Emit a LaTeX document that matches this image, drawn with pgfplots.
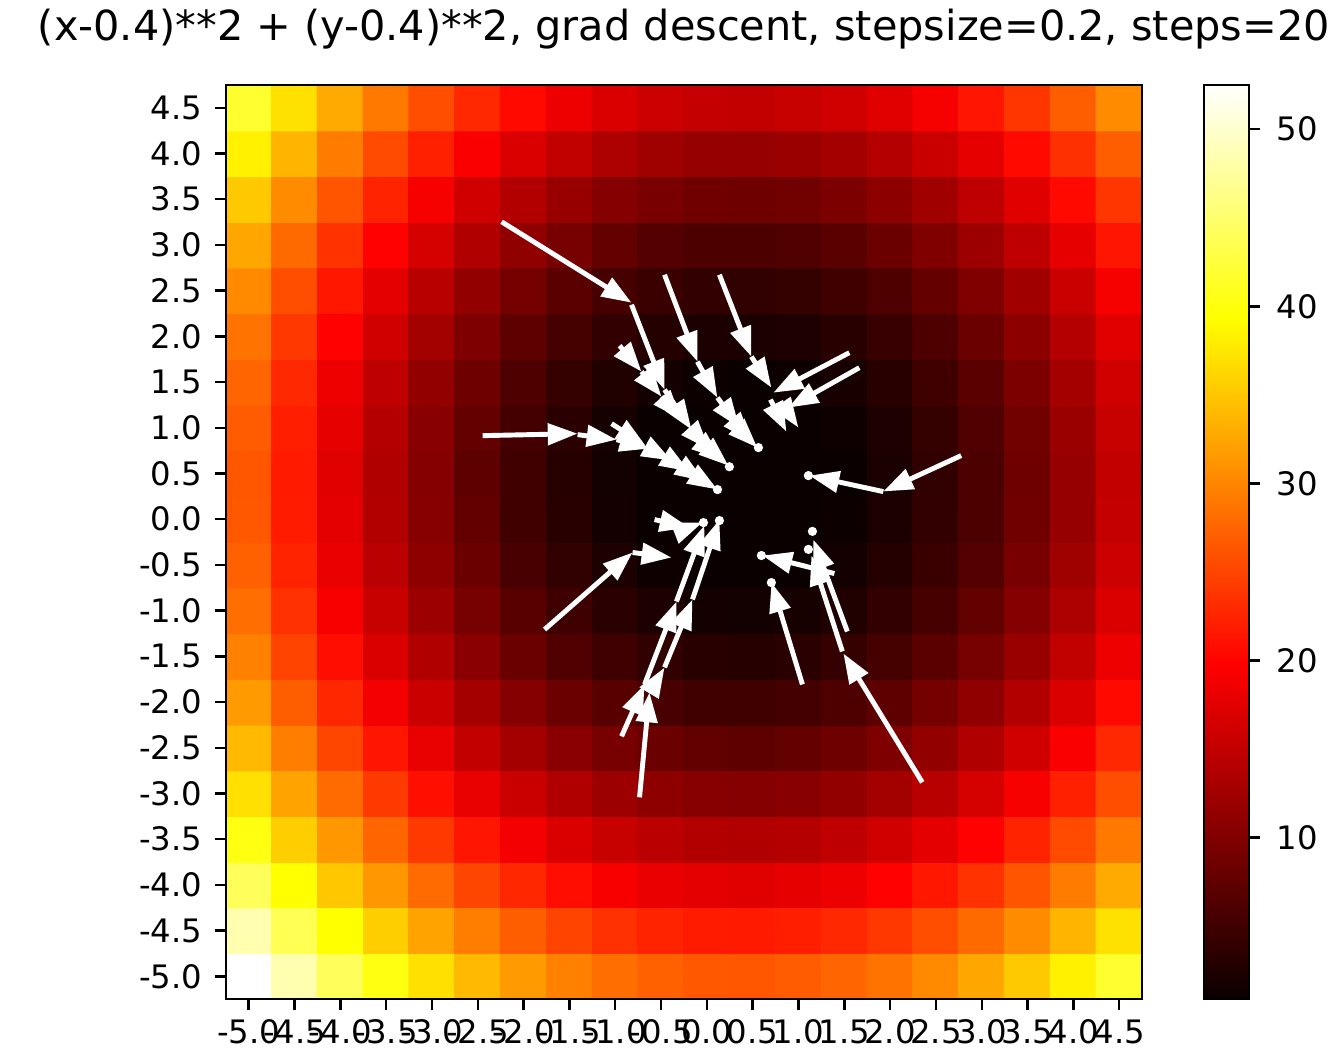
\documentclass[border=0pt]{standalone}
\usepackage{fontspec}
\setmainfont{DejaVu Sans}
\usepackage{pgfplots}
\pgfplotsset{compat=1.18}
\usetikzlibrary{arrows.meta}

\pgfplotsset{
  colormap={mplhot}{rgb(0cm)=(0.0416,0,0) rgb(3.65cm)=(1,0,0) rgb(7.46cm)=(1,1,0) rgb(10cm)=(1,1,1)},
}

\begin{document}
\begin{tikzpicture}
\begin{axis}[
  name=main,
  scale only axis,
  width=91.7mm, height=91.5mm,
  xmin=-5.25, xmax=4.75, ymin=-5.25, ymax=4.75,
  enlargelimits=false,
  axis on top,
  colormap name=mplhot,
  point meta min=0.87, point meta max=52.5,
  axis line style={line width=0.7pt},
  tick align=outside, major tick length=3.2pt,
  tick style={black, line width=0.7pt},
  xtick pos=bottom, ytick pos=left,
  tick label style={font=\fontsize{9.2}{11}\selectfont},
  xticklabel style={yshift=0.3mm},
  xtick={-5,-4.5,-4,-3.5,-3,-2.5,-2,-1.5,-1,-0.5,0,0.5,1,1.5,2,2.5,3,3.5,4,4.5},
  ytick={-5,-4.5,-4,-3.5,-3,-2.5,-2,-1.5,-1,-0.5,0,0.5,1,1.5,2,2.5,3,3.5,4,4.5},
  xticklabels={-5.0,-4.5,-4.0,-3.5,-3.0,-2.5,-2.0,-1.5,-1.0,-0.5,0.0,0.5,1.0,1.5,2.0,2.5,3.0,3.5,4.0,4.5},
  yticklabels={-5.0,-4.5,-4.0,-3.5,-3.0,-2.5,-2.0,-1.5,-1.0,-0.5,0.0,0.5,1.0,1.5,2.0,2.5,3.0,3.5,4.0,4.5},
  title={(x-0.4)**2 + (y-0.4)**2, grad descent, stepsize=0.2, steps=20},
  title style={font=\fontsize{11.8}{14}\selectfont, inner sep=0pt, at={(0.5,1)}, anchor=base, yshift=2.3mm},
  colorbar,
  colorbar style={
    scale only axis,
    width=4.5mm,
    at={(parent axis.north east)}, anchor=north west, xshift=3.2mm,
    ytick={10,20,30,40,50},
    ytick pos=right,
    tick align=outside, major tick length=3.2pt,
    tick style={black, line width=0.7pt},
    axis line style={line width=0.7pt},
    yticklabel style={font=\fontsize{9.2}{11}\selectfont, xshift=0.4mm, /pgf/number format/assume math mode=true},
  },
]
\addplot[matrix plot*, mesh/cols=20, point meta=explicit] coordinates {
(-5,-5)[52.5] (-4.5,-5)[48.4] (-4,-5)[44.1] (-3.5,-5)[40.3] (-3,-5)[37.0] (-2.5,-5)[34.1] (-2,-5)[31.7] (-1.5,-5)[29.7] (-1,-5)[28.2] (-0.5,-5)[27.1] (0,-5)[26.5] (0.5,-5)[26.4] (1,-5)[26.7] (1.5,-5)[27.5] (2,-5)[28.7] (2.5,-5)[30.4] (3,-5)[32.6] (3.5,-5)[35.2] (4,-5)[38.3] (4.5,-5)[41.8]
(-5,-4.5)[48.4] (-4.5,-4.5)[43.7] (-4,-4.5)[39.4] (-3.5,-4.5)[35.6] (-3,-4.5)[32.3] (-2.5,-4.5)[29.4] (-2,-4.5)[27.0] (-1.5,-4.5)[25.0] (-1,-4.5)[23.5] (-0.5,-4.5)[22.4] (0,-4.5)[21.8] (0.5,-4.5)[21.7] (1,-4.5)[22.0] (1.5,-4.5)[22.8] (2,-4.5)[24.0] (2.5,-4.5)[25.7] (3,-4.5)[27.9] (3.5,-4.5)[30.5] (4,-4.5)[33.6] (4.5,-4.5)[37.1]
(-5,-4)[44.1] (-4.5,-4)[39.4] (-4,-4)[35.1] (-3.5,-4)[31.4] (-3,-4)[28.0] (-2.5,-4)[25.1] (-2,-4)[22.7] (-1.5,-4)[20.7] (-1,-4)[19.2] (-0.5,-4)[18.2] (0,-4)[17.6] (0.5,-4)[17.4] (1,-4)[17.8] (1.5,-4)[18.5] (2,-4)[19.8] (2.5,-4)[21.5] (3,-4)[23.6] (3.5,-4)[26.2] (4,-4)[29.3] (4.5,-4)[32.8]
(-5,-3.5)[40.3] (-4.5,-3.5)[35.6] (-4,-3.5)[31.4] (-3.5,-3.5)[27.6] (-3,-3.5)[24.2] (-2.5,-3.5)[21.3] (-2,-3.5)[18.9] (-1.5,-3.5)[16.9] (-1,-3.5)[15.4] (-0.5,-3.5)[14.4] (0,-3.5)[13.8] (0.5,-3.5)[13.7] (1,-3.5)[14.0] (1.5,-3.5)[14.8] (2,-3.5)[16.0] (2.5,-3.5)[17.7] (3,-3.5)[19.8] (3.5,-3.5)[22.4] (4,-3.5)[25.5] (4.5,-3.5)[29.0]
(-5,-3)[37.0] (-4.5,-3)[32.3] (-4,-3)[28.0] (-3.5,-3)[24.2] (-3,-3)[20.9] (-2.5,-3)[18.0] (-2,-3)[15.6] (-1.5,-3)[13.6] (-1,-3)[12.1] (-0.5,-3)[11.0] (0,-3)[10.4] (0.5,-3)[10.3] (1,-3)[10.6] (1.5,-3)[11.4] (2,-3)[12.6] (2.5,-3)[14.3] (3,-3)[16.5] (3.5,-3)[19.1] (4,-3)[22.2] (4.5,-3)[25.7]
(-5,-2.5)[34.1] (-4.5,-2.5)[29.4] (-4,-2.5)[25.1] (-3.5,-2.5)[21.3] (-3,-2.5)[18.0] (-2.5,-2.5)[15.1] (-2,-2.5)[12.7] (-1.5,-2.5)[10.7] (-1,-2.5)[9.2] (-0.5,-2.5)[8.2] (0,-2.5)[7.6] (0.5,-2.5)[7.4] (1,-2.5)[7.7] (1.5,-2.5)[8.5] (2,-2.5)[9.8] (2.5,-2.5)[11.4] (3,-2.5)[13.6] (3.5,-2.5)[16.2] (4,-2.5)[19.3] (4.5,-2.5)[22.8]
(-5,-2)[31.7] (-4.5,-2)[27.0] (-4,-2)[22.7] (-3.5,-2)[18.9] (-3,-2)[15.6] (-2.5,-2)[12.7] (-2,-2)[10.3] (-1.5,-2)[8.3] (-1,-2)[6.8] (-0.5,-2)[5.7] (0,-2)[5.1] (0.5,-2)[5.0] (1,-2)[5.3] (1.5,-2)[6.1] (2,-2)[7.3] (2.5,-2)[9.0] (3,-2)[11.2] (3.5,-2)[13.8] (4,-2)[16.9] (4.5,-2)[20.4]
(-5,-1.5)[29.7] (-4.5,-1.5)[25.0] (-4,-1.5)[20.7] (-3.5,-1.5)[16.9] (-3,-1.5)[13.6] (-2.5,-1.5)[10.7] (-2,-1.5)[8.3] (-1.5,-1.5)[6.3] (-1,-1.5)[4.8] (-0.5,-1.5)[3.8] (0,-1.5)[3.2] (0.5,-1.5)[3.0] (1,-1.5)[3.4] (1.5,-1.5)[4.1] (2,-1.5)[5.4] (2.5,-1.5)[7.1] (3,-1.5)[9.2] (3.5,-1.5)[11.8] (4,-1.5)[14.9] (4.5,-1.5)[18.4]
(-5,-1)[28.2] (-4.5,-1)[23.5] (-4,-1)[19.2] (-3.5,-1)[15.4] (-3,-1)[12.1] (-2.5,-1)[9.2] (-2,-1)[6.8] (-1.5,-1)[4.8] (-1,-1)[3.3] (-0.5,-1)[2.3] (0,-1)[1.7] (0.5,-1)[1.5] (1,-1)[1.8] (1.5,-1)[2.6] (2,-1)[3.9] (2.5,-1)[5.5] (3,-1)[7.7] (3.5,-1)[10.3] (4,-1)[13.4] (4.5,-1)[16.9]
(-5,-0.5)[27.1] (-4.5,-0.5)[22.4] (-4,-0.5)[18.2] (-3.5,-0.5)[14.4] (-3,-0.5)[11.0] (-2.5,-0.5)[8.2] (-2,-0.5)[5.7] (-1.5,-0.5)[3.8] (-1,-0.5)[2.3] (-0.5,-0.5)[1.2] (0,-0.5)[0.87] (0.5,-0.5)[0.87] (1,-0.5)[0.87] (1.5,-0.5)[1.6] (2,-0.5)[2.8] (2.5,-0.5)[4.5] (3,-0.5)[6.6] (3.5,-0.5)[9.3] (4,-0.5)[12.3] (4.5,-0.5)[15.8]
(-5,0)[26.5] (-4.5,0)[21.8] (-4,0)[17.6] (-3.5,0)[13.8] (-3,0)[10.4] (-2.5,0)[7.6] (-2,0)[5.1] (-1.5,0)[3.2] (-1,0)[1.7] (-0.5,0)[0.87] (0,0)[0.87] (0.5,0)[0.87] (1,0)[0.87] (1.5,0)[1.0] (2,0)[2.2] (2.5,0)[3.9] (3,0)[6.0] (3.5,0)[8.7] (4,0)[11.7] (4.5,0)[15.2]
(-5,0.5)[26.4] (-4.5,0.5)[21.7] (-4,0.5)[17.4] (-3.5,0.5)[13.7] (-3,0.5)[10.3] (-2.5,0.5)[7.4] (-2,0.5)[5.0] (-1.5,0.5)[3.0] (-1,0.5)[1.5] (-0.5,0.5)[0.87] (0,0.5)[0.87] (0.5,0.5)[0.87] (1,0.5)[0.87] (1.5,0.5)[0.87] (2,0.5)[2.1] (2.5,0.5)[3.8] (3,0.5)[5.9] (3.5,0.5)[8.5] (4,0.5)[11.6] (4.5,0.5)[15.1]
(-5,1)[26.7] (-4.5,1)[22.0] (-4,1)[17.8] (-3.5,1)[14.0] (-3,1)[10.6] (-2.5,1)[7.7] (-2,1)[5.3] (-1.5,1)[3.4] (-1,1)[1.8] (-0.5,1)[0.87] (0,1)[0.87] (0.5,1)[0.87] (1,1)[0.87] (1.5,1)[1.2] (2,1)[2.4] (2.5,1)[4.1] (3,1)[6.2] (3.5,1)[8.8] (4,1)[11.9] (4.5,1)[15.4]
(-5,1.5)[27.5] (-4.5,1.5)[22.8] (-4,1.5)[18.5] (-3.5,1.5)[14.8] (-3,1.5)[11.4] (-2.5,1.5)[8.5] (-2,1.5)[6.1] (-1.5,1.5)[4.1] (-1,1.5)[2.6] (-0.5,1.5)[1.6] (0,1.5)[1.0] (0.5,1.5)[0.87] (1,1.5)[1.2] (1.5,1.5)[1.9] (2,1.5)[3.2] (2.5,1.5)[4.9] (3,1.5)[7.0] (3.5,1.5)[9.6] (4,1.5)[12.7] (4.5,1.5)[16.2]
(-5,2)[28.7] (-4.5,2)[24.0] (-4,2)[19.8] (-3.5,2)[16.0] (-3,2)[12.6] (-2.5,2)[9.8] (-2,2)[7.3] (-1.5,2)[5.4] (-1,2)[3.9] (-0.5,2)[2.8] (0,2)[2.2] (0.5,2)[2.1] (1,2)[2.4] (1.5,2)[3.2] (2,2)[4.4] (2.5,2)[6.1] (3,2)[8.2] (3.5,2)[10.9] (4,2)[13.9] (4.5,2)[17.4]
(-5,2.5)[30.4] (-4.5,2.5)[25.7] (-4,2.5)[21.5] (-3.5,2.5)[17.7] (-3,2.5)[14.3] (-2.5,2.5)[11.4] (-2,2.5)[9.0] (-1.5,2.5)[7.1] (-1,2.5)[5.5] (-0.5,2.5)[4.5] (0,2.5)[3.9] (0.5,2.5)[3.8] (1,2.5)[4.1] (1.5,2.5)[4.9] (2,2.5)[6.1] (2.5,2.5)[7.8] (3,2.5)[9.9] (3.5,2.5)[12.5] (4,2.5)[15.6] (4.5,2.5)[19.1]
(-5,3)[32.6] (-4.5,3)[27.9] (-4,3)[23.6] (-3.5,3)[19.8] (-3,3)[16.5] (-2.5,3)[13.6] (-2,3)[11.2] (-1.5,3)[9.2] (-1,3)[7.7] (-0.5,3)[6.6] (0,3)[6.0] (0.5,3)[5.9] (1,3)[6.2] (1.5,3)[7.0] (2,3)[8.2] (2.5,3)[9.9] (3,3)[12.1] (3.5,3)[14.7] (4,3)[17.8] (4.5,3)[21.3]
(-5,3.5)[35.2] (-4.5,3.5)[30.5] (-4,3.5)[26.2] (-3.5,3.5)[22.4] (-3,3.5)[19.1] (-2.5,3.5)[16.2] (-2,3.5)[13.8] (-1.5,3.5)[11.8] (-1,3.5)[10.3] (-0.5,3.5)[9.3] (0,3.5)[8.7] (0.5,3.5)[8.5] (1,3.5)[8.8] (1.5,3.5)[9.6] (2,3.5)[10.9] (2.5,3.5)[12.5] (3,3.5)[14.7] (3.5,3.5)[17.3] (4,3.5)[20.4] (4.5,3.5)[23.9]
(-5,4)[38.3] (-4.5,4)[33.6] (-4,4)[29.3] (-3.5,4)[25.5] (-3,4)[22.2] (-2.5,4)[19.3] (-2,4)[16.9] (-1.5,4)[14.9] (-1,4)[13.4] (-0.5,4)[12.3] (0,4)[11.7] (0.5,4)[11.6] (1,4)[11.9] (1.5,4)[12.7] (2,4)[13.9] (2.5,4)[15.6] (3,4)[17.8] (3.5,4)[20.4] (4,4)[23.4] (4.5,4)[27.0]
(-5,4.5)[41.8] (-4.5,4.5)[37.1] (-4,4.5)[32.8] (-3.5,4.5)[29.0] (-3,4.5)[25.7] (-2.5,4.5)[22.8] (-2,4.5)[20.4] (-1.5,4.5)[18.4] (-1,4.5)[16.9] (-0.5,4.5)[15.8] (0,4.5)[15.2] (0.5,4.5)[15.1] (1,4.5)[15.4] (1.5,4.5)[16.2] (2,4.5)[17.4] (2.5,4.5)[19.1] (3,4.5)[21.3] (3.5,4.5)[23.9] (4,4.5)[27.0] (4.5,4.5)[30.5]
};
% gradient descent steps: start (x,y) and step (u,v)
\addplot[white, line width=1.4pt, -{Triangle[length=8.5pt,width=6pt]},
  quiver={u=\thisrow{u}, v=\thisrow{v}}] table {
x y u v
-2.240 3.253 1.418 -0.885
-0.822 2.346 0.360 -0.929
-0.462 1.417 0.294 -0.437
-0.168 0.980 0.196 -0.219
0.028 0.761 0.131 -0.109
0.159 0.652 0.076 -0.066
-0.953 1.898 0.240 -0.284
-0.713 1.614 0.218 -0.273
-0.495 1.340 0.218 -0.251
-0.462 2.674 0.360 -0.951
-0.103 1.723 0.218 -0.393
0.116 1.330 0.240 -0.328
0.356 1.002 0.131 -0.153
0.486 0.849 0.065 -0.066
0.137 2.674 0.349 -0.896
0.486 1.778 0.218 -0.339
1.555 1.821 -0.829 -0.437
1.664 1.657 -0.774 -0.437
0.694 1.308 0.174 -0.350
0.835 1.242 0.164 -0.240
-2.447 0.914 1.036 0.022
-1.411 0.925 0.425 -0.055
-0.986 0.870 0.360 -0.098
-0.626 0.772 0.240 -0.131
-0.386 0.641 0.196 -0.120
-0.190 0.521 0.164 -0.109
-0.026 0.411 0.142 -0.087
-1.040 1.045 0.371 -0.240
2.776 0.696 -0.851 -0.393
1.926 0.302 -0.807 0.175
2.351 -2.878 -0.861 1.410
1.479 -1.446 -0.338 1.049
1.533 -1.228 -0.371 1.005
1.392 -0.594 -0.785 0.197
1.043 -1.807 -0.338 1.115
-1.771 -1.206 0.960 0.842
-0.811 -0.364 0.425 -0.055
-0.571 -0.004 0.382 -0.087
-0.190 -0.091 0.142 0.055
-0.735 -3.042 0.109 1.148
-0.931 -2.375 0.251 0.568
-0.626 -1.895 0.164 0.273
-0.680 -1.807 0.349 0.907
-0.462 -1.621 0.305 0.743
-0.332 -0.900 0.305 0.831
-0.157 -0.878 0.294 0.874
};
% last steps, too short to show a head
\addplot[only marks, mark=*, mark size=1.1pt, white] coordinates {
(0.246,0.574) (0.563,0.783) (0.116,0.324) (1.108,0.477) (0.595,-0.397)
(0.704,-0.693) (1.152,-0.133) (1.108,-0.330) (0.137,-0.015) (-0.037,-0.037)
};
\end{axis}
\path ([xshift=-22.6mm,yshift=-6.4mm]main.south west) rectangle ([xshift=18.7mm,yshift=8.5mm]main.north east);
\end{tikzpicture}
\end{document}
